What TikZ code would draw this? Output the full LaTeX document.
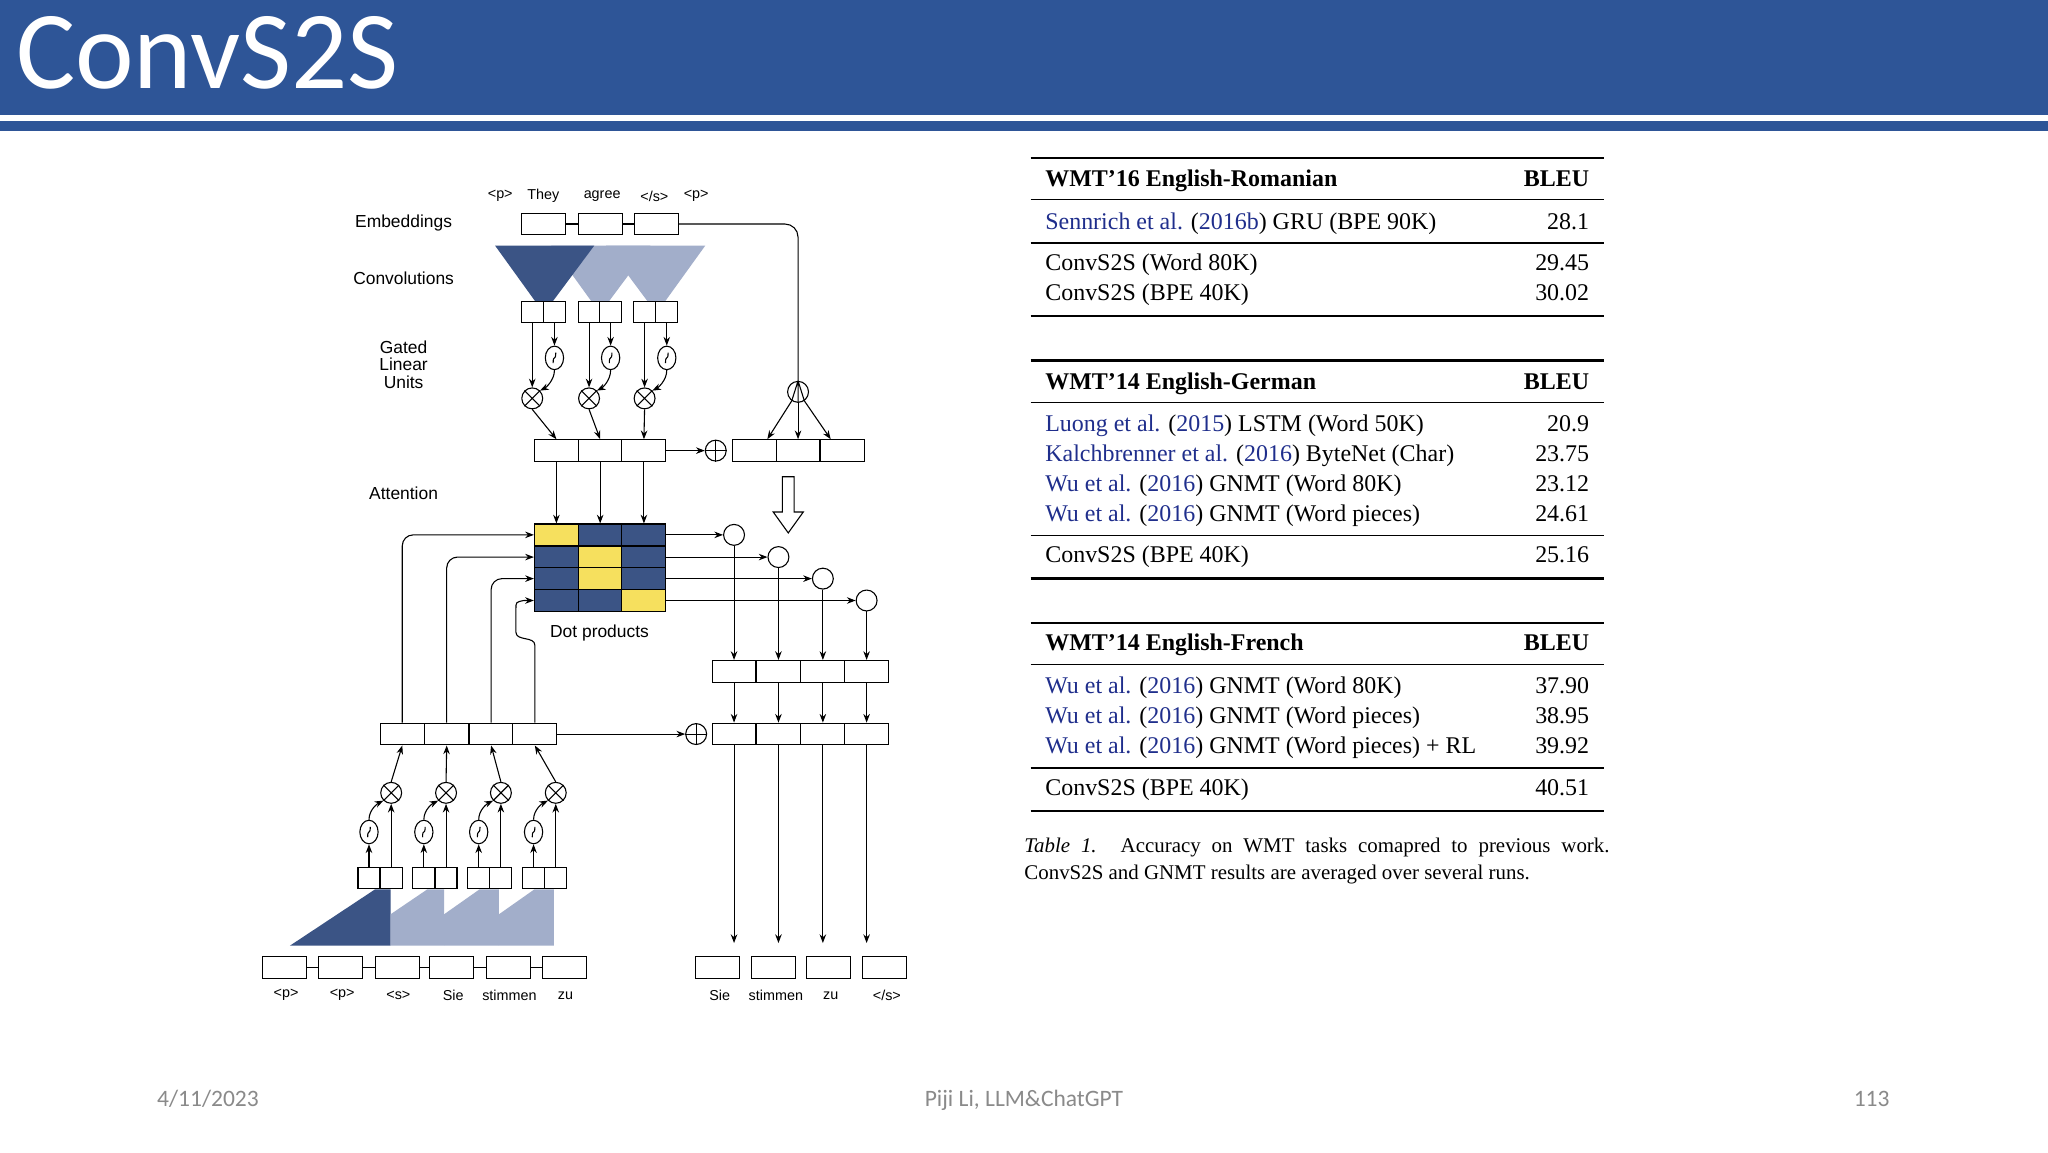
\documentclass[tikz,border=0pt]{standalone}
\usepackage{fontspec}
\setmainfont{Liberation Serif}
\newfontfamily\carl{Carlito}
\newfontfamily\arl{Liberation Sans}
\usetikzlibrary{arrows.meta,shapes.geometric,calc}
\definecolor{hdr}{HTML}{2E5597}
\definecolor{dk}{HTML}{3B5485}
\definecolor{lt}{HTML}{A2AECA}
\definecolor{yl}{HTML}{F6E05E}
\definecolor{cite}{HTML}{1F2E8C}
\definecolor{foot}{HTML}{8A8A8A}
\newcommand\trow[3]{\node[tl] at (800,#1) {#2};\node[tr] at (1217,#1) {#3};}
\begin{document}
\begin{tikzpicture}[x=0.6pt,y=-0.6pt,
  box/.style={draw,line width=0.5pt,minimum width=20.2pt,minimum height=10pt,inner sep=0pt,fill=white},
  hbox/.style={draw,line width=0.5pt,minimum width=10.1pt,minimum height=9.6pt,inner sep=0pt,fill=white},
  cir/.style={draw,circle,line width=0.5pt,minimum size=9.6pt,inner sep=0pt,fill=white},
  sig/.style={draw,ellipse,line width=0.5pt,minimum width=8.4pt,minimum height=10.8pt,inner sep=0pt,fill=white},
  cell/.style={draw,line width=0.5pt,minimum width=20.2pt,minimum height=10pt,inner sep=0pt},
  arr/.style={line width=0.5pt,-{Stealth[length=4pt,width=3pt]}},
  ln/.style={line width=0.5pt},
  lab/.style={font=\arl\fontsize{8}{9.6}\selectfont,align=center},
  tok/.style={font=\arl\fontsize{6.6}{7}\selectfont},
  tl/.style={anchor=base west,inner sep=0pt,font=\fontsize{11}{13}\selectfont},
  tr/.style={anchor=base east,inner sep=0pt,font=\fontsize{11}{13}\selectfont},
  thick rule/.style={line width=1.1pt},
  thin rule/.style={line width=0.6pt}]
\useasboundingbox (0,0) rectangle (1568,882);
\fill[white] (0,0) rectangle (1568,882);
% header
\fill[hdr] (0,0) rectangle (1568,88);
\fill[hdr] (0,93) rectangle (1568,100);
\node[anchor=base west,inner sep=0pt,text=white,font=\carl\fontsize{51}{51}\selectfont] (title) at (12,68) {ConvS2S};

% ---------- encoder top ----------
\foreach \t/\x in {{<p>}/383,They/416,agree/461,{</s>}/501,{<p>}/533}
  \node[tok] at (\x,150) {\t};
\node[lab] (lemb) at (309,171) {Embeddings};
\node[lab] (lconv) at (309,213) {Convolutions};
\node[lab] (lglu) at (309,279) {Gated\\[-1.5pt]Linear\\[-1.5pt]Units};
\node[lab] (latt) at (309,378) {Attention};
\node[lab] (ldot) at (459,485) {Dot products};

\foreach \i/\x in {1/416,2/459.5,3/502.5} \node[box] (emb\i) at (\x,171.5) {};
\draw[ln] (emb1.east) -- (emb2.west);
\draw[ln] (emb2.east) -- (emb3.west);
\fill[lt] (464,188) -- (540,188) -- (509,231) -- (496,231) -- cycle;
\fill[lt] (422,188) -- (498,188) -- (466,231) -- (453,231) -- cycle;
\fill[dk] (379,188) -- (455,188) -- (423,231) -- (410,231) -- cycle;

\foreach \i/\a/\b/\m in {1/407.5/424.5/426,2/451/467.5/459.5,3/493.5/510.5/493}{
  \node[hbox] (ca\i) at (\a,239) {};
  \node[hbox] (cb\i) at (\b,239) {};
  \node[sig] (sg\i) at (\b,274) {};
  \draw[ln] ($(sg\i)+(-1,4)$) .. controls ($(sg\i)+(-1,-3)$) and ($(sg\i)+(1,3)$) .. ($(sg\i)+(1,-4)$);
  \node[cir] (mu\i) at (\a,305) {};
  \draw[ln] (mu\i.45) -- (mu\i.225) (mu\i.135) -- (mu\i.315);
  \node[box] (mr\i) at (\m,345) {};
  \draw[arr] (ca\i.south) -- (mu\i.north);
  \draw[arr] (cb\i.south) -- (sg\i.north);
  \draw[arr] (sg\i.south) .. controls ($(sg\i.south)+(0,8)$) and ($(mu\i.45)+(4,-2)$) .. (mu\i.45);
  \draw[arr] (mu\i.south) -- (mr\i.north);
}
\node[cir] (opl1) at (548,345) {};
\draw[ln] (opl1.north) -- (opl1.south) (opl1.west) -- (opl1.east);
\draw[arr] (mr3.east) -- (opl1.west);
\foreach \i/\x in {1/577.5,2/611,3/645} \node[box] (ks\i) at (\x,345) {};
\node[cir] (spl) at (611,300) {};
\draw[ln] (spl.north) -- (spl.south) (spl.north) -- (spl.-125) (spl.north) -- (spl.-55);
\draw[ln,rounded corners=6pt] (emb3.east) -| (spl.north);
\draw[arr] (spl.-125) -- ($(ks1.north)+(10,0)$);
\draw[arr] (spl.south) -- (ks2.north);
\draw[arr] (spl.-55) -- ($(ks3.north)+(-9,0)$);
\draw[line width=0.5pt,fill=white] (599,365) -- (608,365) -- (608,392) -- (615,392) -- (603.5,408) -- (592,392) -- (599,392) -- cycle;

% ---------- attention matrix ----------
\foreach \r/\y in {1/409.5,2/426.5,3/443,4/459.75}
  \foreach \c/\x in {1/426,2/459.5,3/493}{
    \pgfmathtruncatemacro\isy{(\r==1&&\c==1)||(\r==2&&\c==2)||(\r==3&&\c==2)||(\r==4&&\c==3)}
    \ifnum\isy=1 \node[cell,fill=yl] (mat-\r-\c) at (\x,\y) {};
    \else \node[cell,fill=dk] (mat-\r-\c) at (\x,\y) {}; \fi
  }
\foreach \i in {1,2,3} \draw[arr] (mr\i.south) -- (mat-1-\i.north);

\foreach \i/\x/\y in {1/562/409.5,2/596/426.5,3/630/443,4/663.5/459.75}{
  \node[cir] (sm\i) at (\x,\y) {\fontsize{6}{6}\selectfont$\mathbf{\Sigma}$};
  \draw[arr] (mat-\i-3.east) -- (sm\i.west);
  \node[box] (dt\i) at (\x,514) {};
  \node[box] (db\i) at (\x,562) {};
  \coordinate (oe\i) at (\x,722);
  \draw[arr] (sm\i.south) -- (dt\i.north);
  \draw[arr] (dt\i.south) -- (db\i.north);
  \draw[arr] (db\i.south) -- (oe\i);
}
\foreach \i/\x/\t in {1/549/Sie,2/592/stimmen,3/634/zu,4/677/{</s>}}{
  \node[box] (out\i) at (\x,740.5) {};
  \node[tok] at (\x+2,762) {\t};
}

% ---------- encoder bottom ----------
\foreach \i/\x in {1/308,2/342,3/376,4/409.5} \node[box] (en\i) at (\x,562) {};
\draw[arr,rounded corners=5pt] (en1.north) |- (mat-1-1.west);
\draw[arr,rounded corners=5pt] (en2.north) |- (mat-2-1.west);
\draw[arr,rounded corners=5pt] (en3.north) |- (mat-3-1.west);
\draw[arr] (en4.north) -- (409.5,494) .. controls (409.5,487) and (395,491) .. (395,484) -- (395,466) .. controls (395,461) .. (401,459.75) -- (mat-4-1.west);
\node[cir] (opl2) at (533,562) {};
\draw[ln] (opl2.north) -- (opl2.south) (opl2.west) -- (opl2.east);
\draw[arr] (en4.east) -- (opl2.west);

\fill[dk] (222,724) -- (287,681) -- (299,681) -- (299,724) -- cycle;
\fill[lt] (299,724) -- (299,700) -- (327,681) -- (340,681) -- (340,724) -- cycle;
\fill[lt] (340,724) -- (340,700) -- (367,681) -- (382,681) -- (382,724) -- cycle;
\fill[lt] (382,724) -- (382,700) -- (409,681) -- (424,681) -- (424,724) -- cycle;

\foreach \i/\a/\b in {1/282.5/299.5,2/324.5/341.5,3/366.5/383.5,4/408.5/425.5}{
  \node[hbox] (la\i) at (\a,672.5) {};
  \node[hbox] (lb\i) at (\b,672.5) {};
  \node[sig] (lsg\i) at (\a,637) {};
  \draw[ln] ($(lsg\i)+(-1,4)$) .. controls ($(lsg\i)+(-1,-3)$) and ($(lsg\i)+(1,3)$) .. ($(lsg\i)+(1,-4)$);
  \node[cir] (lmu\i) at (\b,607) {};
  \draw[ln] (lmu\i.45) -- (lmu\i.225) (lmu\i.135) -- (lmu\i.315);
  \draw[arr] (la\i.north) -- (lsg\i.south);
  \draw[arr] (lb\i.north) -- (lmu\i.south);
  \draw[arr] (lsg\i.north) .. controls ($(lsg\i.north)+(0,-8)$) and ($(lmu\i.-135)+(-4,2)$) .. (lmu\i.-135);
  \draw[arr] (lmu\i.north) -- (en\i.south);
}
\foreach \i/\x/\t in {1/218/{<p>},2/261/{<p>},3/304/{<s>},4/346/Sie,5/389/stimmen,6/432/zu}{
  \node[box] (in\i) at (\x,740.5) {};
  \node[tok] at (\x+1,762) {\t};
}
\foreach \i [evaluate=\i as \j using int(\i+1)] in {1,...,5} \draw[ln] (in\i.east) -- (in\j.west);

% ---------- table ----------
\draw[thick rule] (789,121) -- (1228,121);
\node[tl] at (800,143) {\textbf{WMT'16 English-Romanian}};\node[tr] at (1217,143) {\textbf{BLEU}};
\draw[thin rule] (789,153) -- (1228,153);
\trow{176}{\textcolor{cite}{Sennrich et al.} (\textcolor{cite}{2016b}) GRU (BPE 90K)}{28.1}
\draw[thin rule] (789,186) -- (1228,186);
\trow{207}{ConvS2S (Word 80K)}{29.45}
\trow{230}{ConvS2S (BPE 40K)}{30.02}
\draw[thick rule] (789,242) -- (1228,242);

\draw[thick rule] (789,276) -- (1228,276);
\node[tl] at (800,298) {\textbf{WMT'14 English-German}};\node[tr] at (1217,298) {\textbf{BLEU}};
\draw[thin rule] (789,308) -- (1228,308);
\trow{330}{\textcolor{cite}{Luong et al.} (\textcolor{cite}{2015}) LSTM (Word 50K)}{20.9}
\trow{353}{\textcolor{cite}{Kalchbrenner et al.} (\textcolor{cite}{2016}) ByteNet (Char)}{23.75}
\trow{376}{\textcolor{cite}{Wu et al.} (\textcolor{cite}{2016}) GNMT (Word 80K)}{23.12}
\trow{399}{\textcolor{cite}{Wu et al.} (\textcolor{cite}{2016}) GNMT (Word pieces)}{24.61}
\draw[thin rule] (789,410) -- (1228,410);
\trow{431}{ConvS2S (BPE 40K)}{25.16}
\draw[thick rule] (789,443) -- (1228,443);

\draw[thick rule] (789,477) -- (1228,477);
\node[tl] at (800,498) {\textbf{WMT'14 English-French}};\node[tr] at (1217,498) {\textbf{BLEU}};
\draw[thin rule] (789,509) -- (1228,509);
\trow{531}{\textcolor{cite}{Wu et al.} (\textcolor{cite}{2016}) GNMT (Word 80K)}{37.90}
\trow{554}{\textcolor{cite}{Wu et al.} (\textcolor{cite}{2016}) GNMT (Word pieces)}{38.95}
\trow{577}{\textcolor{cite}{Wu et al.} (\textcolor{cite}{2016}) GNMT (Word pieces) + RL}{39.92}
\draw[thin rule] (789,588) -- (1228,588);
\trow{609}{ConvS2S (BPE 40K)}{40.51}
\draw[thick rule] (789,621) -- (1228,621);

\node[anchor=north west,inner sep=0pt,text width=268.8pt,align=justify,font=\fontsize{9.6}{12.6}\selectfont] (cap) at (784,641)
  {\textit{Table 1.} Accuracy on WMT tasks comapred to previous work.\linebreak ConvS2S and GNMT results are averaged over several runs.};

% ---------- footer ----------
\node[anchor=base west,inner sep=0pt,text=foot,font=\carl\fontsize{10.8}{12}\selectfont] (date) at (120,847) {4/11/2023};
\node[anchor=base,inner sep=0pt,text=foot,font=\carl\fontsize{10.8}{12}\selectfont] (auth) at (784,847) {Piji Li, LLM\&ChatGPT};
\node[anchor=base east,inner sep=0pt,text=foot,font=\carl\fontsize{10.8}{12}\selectfont] (page) at (1447,847) {113};
\end{tikzpicture}
\end{document}
